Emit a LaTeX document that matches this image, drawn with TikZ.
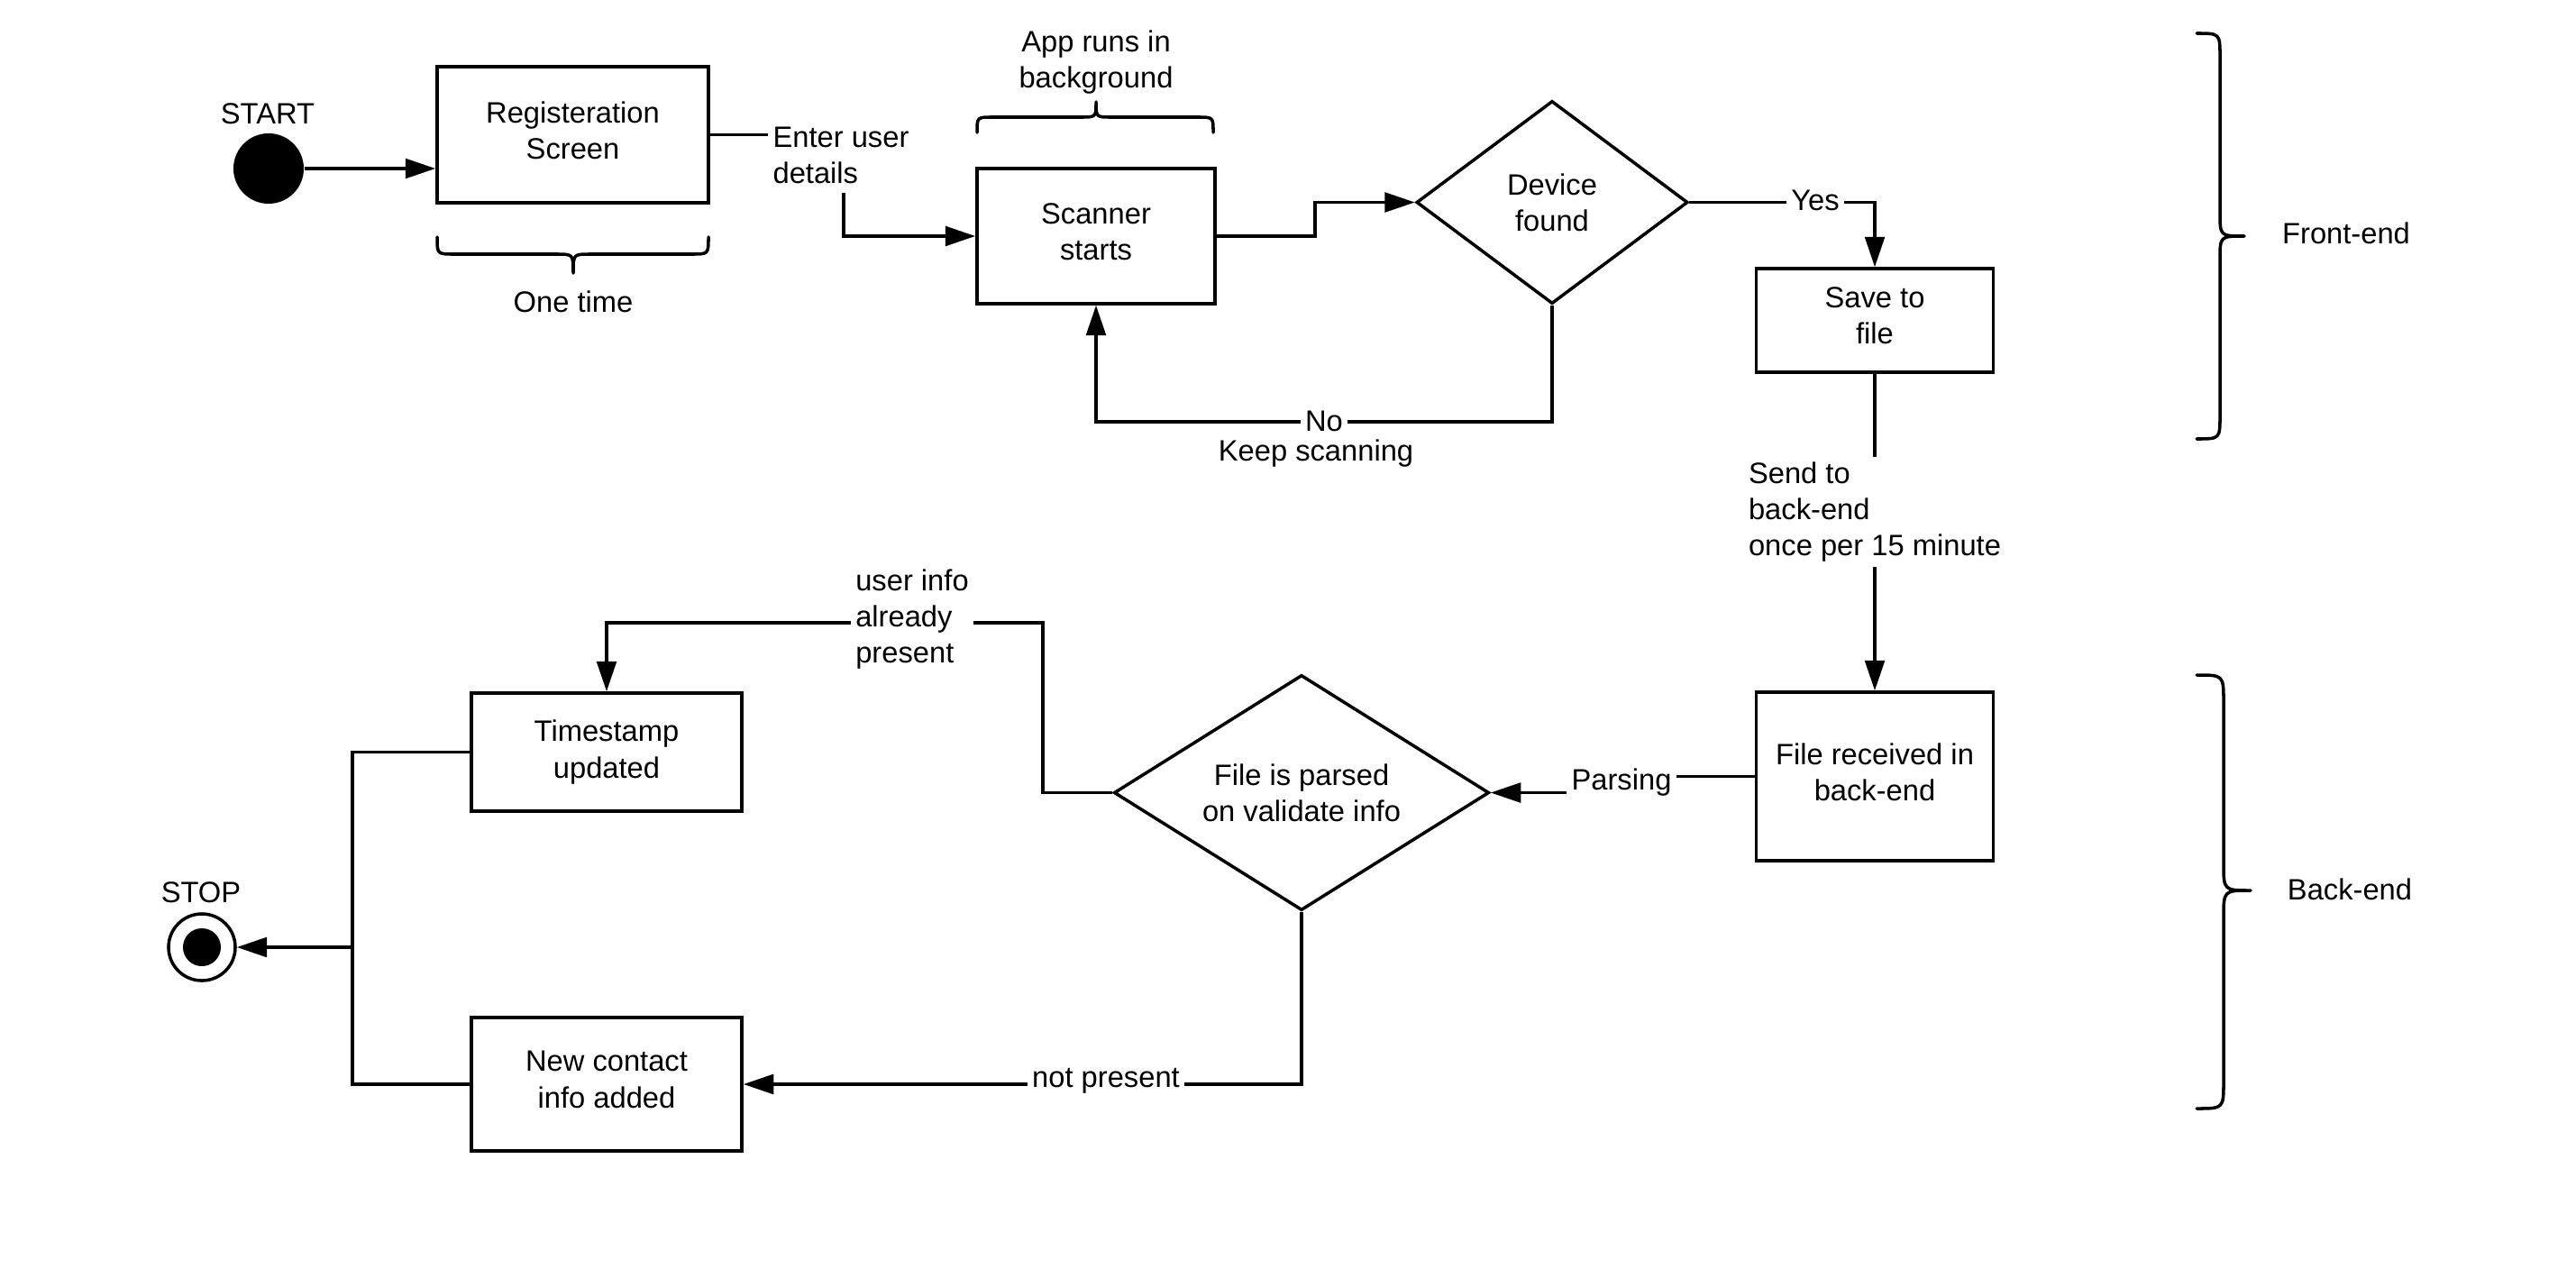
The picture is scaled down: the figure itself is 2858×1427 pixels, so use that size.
\documentclass[tikz,border=0pt]{standalone}
\usepackage{fontspec}
\setmainfont{Liberation Sans}
\usetikzlibrary{arrows.meta,shapes.geometric}
\begin{document}
\begin{tikzpicture}[x=0.01cm,y=-0.01cm,
  font=\fontsize{9.3}{11.4}\selectfont,
  box/.style={draw,line width=1pt,inner sep=0pt,align=center},
  decision/.style={draw,diamond,line width=1pt,inner sep=0pt,align=center},
  wire/.style={line width=0.9pt},
  flow/.style={wire,-{Triangle[length=9.5pt,width=6.2pt]}},
  tag/.style={fill=white,inner sep=1.5pt},
  txt/.style={inner sep=1pt,align=center},
  brace/.style={line width=1pt,line cap=round,line join=round}]
\useasboundingbox (0,0) rectangle (2858,1427);

% --- front-end states ---
\node[circle,fill,inner sep=0pt,minimum size=0.78cm] (start) at (298,187) {};
\node[txt] (startlbl) at (297,126) {START};
\node[box,minimum width=3.01cm,minimum height=1.51cm] (reg) at (635.5,149.5) {Registeration\\Screen\rule[-3pt]{0pt}{1pt}};
\node[box,minimum width=2.64cm,minimum height=1.50cm] (scan) at (1216,262) {Scanner\\starts\rule[-3pt]{0pt}{1pt}};
\node[decision,aspect=1.338,minimum width=3.01cm,minimum height=2.25cm] (dev) at (1722,224.5) {Device\\found};
\node[box,minimum width=2.63cm,minimum height=1.15cm] (save) at (2080,355.5) {Save to\\file\rule[-3pt]{0pt}{1pt}};

% --- back-end states ---
\node[box,minimum width=2.63cm,minimum height=1.87cm] (recv) at (2080,861.5) {File received in\\back-end\rule[-3pt]{0pt}{1pt}};
\node[decision,aspect=1.594,minimum width=4.16cm,minimum height=2.61cm] (parse) at (1444,879.5) {File is parsed\\on validate info};
\node[box,minimum width=3.00cm,minimum height=1.31cm] (stamp) at (673,834.5) {Timestamp\\updated};
\node[box,minimum width=3.00cm,minimum height=1.48cm] (newc) at (673,1203) {New contact\\info added\rule[-3pt]{0pt}{1pt}};
\node[circle,draw,line width=1pt,inner sep=0pt,minimum size=0.74cm] (stop) at (224,1051) {};
\node[circle,fill,inner sep=0pt,minimum size=0.42cm] (stopdot) at (stop) {};
\node[txt] (stoplbl) at (223,990) {STOP};

% --- bend points ---
\coordinate (c1) at (936,0);
\coordinate (c2) at (1459,0);
\coordinate (c3) at (0,468);
\coordinate (c4) at (1800,0);
\coordinate (c5) at (1157,691);
\coordinate (j) at (391,1051);

% --- connectors ---
\draw[flow] (start) -- (start -| reg.west);
\draw[flow] (reg.east) -| (c1 |- scan.west) -- (scan.west);
\draw[flow] (scan.east) -| (c2 |- dev.west) -- (dev.west);
\draw[flow] (dev.east) -| (save.north);
\draw[flow] (dev.south) -- (dev.south |- c3) -| (scan.south);
\draw[flow] (save.south) -- (recv.north);
\draw[flow] (recv.west) -| (c4 |- parse.east) -- (parse.east);
\draw[flow] (parse.west) -| (c5) -| (stamp.north);
\draw[flow] (parse.south) |- (newc.east);
\draw[wire] (stamp.west) -| (j |- newc.west) -- (newc.west);
\draw[flow] (j) -- (stop);

% --- connector labels ---
\node[tag,align=left,inner ysep=3pt] (enter) at (933,172) {Enter user\\details};
\node[tag] (yes) at (2014,222) {Yes};
\node[tag] (no) at (1469,467) {No};
\node[txt] (keep) at (1460,503) {Keep scanning};
\node[tag,align=left] (send) at (2080,568) {Send to\\back-end\\once per 15 minute};
\node[tag] (parsing) at (1799,868) {Parsing};
\node[tag,align=left] (already) at (1012,687) {user info\\already\\present};
\node[tag] (notp) at (1227,1199) {not present};

% --- braces ---
\draw[brace] (485,263) .. controls (485,282) .. (504,282) -- (617,282)
  .. controls (636,282) .. (636,303) .. controls (636,282) .. (655,282)
  -- (767,282) .. controls (786,282) .. (786,263);
\node[txt] (once) at (636,335) {One time};
\draw[brace] (1084,147) .. controls (1084,130) .. (1101,130) -- (1199,130)
  .. controls (1216,130) .. (1216,113) .. controls (1216,130) .. (1233,130)
  -- (1329,130) .. controls (1346,130) .. (1346,147);
\node[txt] (bg) at (1216,69) {App runs in\\background};
\draw[brace] (2437,37) .. controls (2463,37) .. (2463,63) -- (2463,236)
  .. controls (2463,262) .. (2490,262) .. controls (2463,262) .. (2463,288)
  -- (2463,461) .. controls (2463,487) .. (2437,487);
\node[txt] (front) at (2603,259) {Front-end};
\draw[brace] (2437,749) .. controls (2467,749) .. (2467,779) -- (2467,958)
  .. controls (2467,988) .. (2497,988) .. controls (2467,988) .. (2467,1018)
  -- (2467,1200) .. controls (2467,1230) .. (2437,1230);
\node[txt] (back) at (2607,987) {Back-end};
\end{tikzpicture}
\end{document}
